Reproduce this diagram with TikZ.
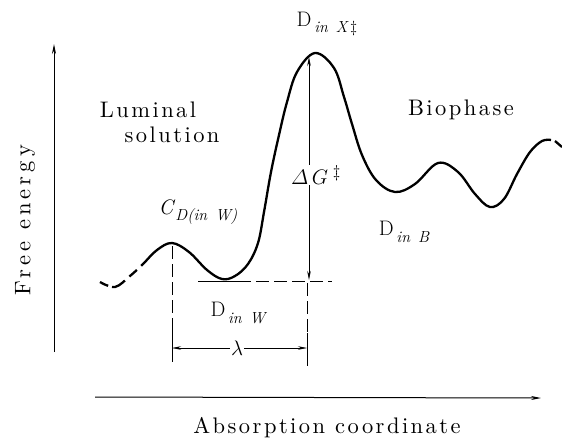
\RequirePackage{fix-cm}
\documentclass[tikz,border=0pt]{standalone}
\usepackage{fontspec}
\newfontfamily\spacedfont{lmroman10-regular.otf}[LetterSpace=11]
\newfontfamily\widefont{lmroman10-regular.otf}[LetterSpace=18]
\DeclareMathSizes{21}{21}{17}{13}
\newcommand\sublbl[2]{#1\raisebox{-0.3em}{\fontsize{16}{18}\selectfont\itshape #2}}
\usetikzlibrary{arrows.meta}
\tikzset{
  txt/.style={font=\spacedfont\fontsize{22.5}{24}\selectfont, inner sep=1pt},
  mlbl/.style={font=\fontsize{21}{23}\selectfont, inner sep=1pt},
  axis/.style={line width=1pt, -{Stealth[length=10pt,width=4pt]}},
  curve/.style={line width=2.3pt},
  thin/.style={line width=0.6pt},
  dimtip/.style={line width=0.6pt, -{Stealth[length=9pt,width=3.5pt]}},
  guide/.style={line width=0.6pt, dash pattern=on 13pt off 5pt}
}
\begin{document}
\begin{tikzpicture}[x=1pt, y=-1pt]
\useasboundingbox (0,0) rectangle (562,445);
% axes
\coordinate (y0) at (54,352);
\coordinate (y1) at (54,44);
\coordinate (x0) at (95,397);
\coordinate (x1) at (541,398);
\draw[axis] (y0) -- (y1);
\draw[axis] (x0) -- (x1);
\node[inner sep=1pt, font=\widefont\fontsize{22.5}{24}\selectfont, rotate=90] (fe) at (25,220) {Free energy};
\node[txt] (ac) at (327,428) {Absorption coordinate};
% energy curve
\draw[curve, dash pattern=on 9pt off 4pt on 15pt off 6pt on 10pt off 6pt on 4000pt]
  plot[smooth, tension=0.6] coordinates {
  (100,282) (115,287) (130,276) (143,264) (157,250) (172,243) (189,252) (207,270)
  (222,279) (235,276) (248,264) (258,243) (264,212) (271,172) (279,135) (287,102)
  (297,72) (315,53) (334,68) (344,97) (352,124) (362,155) (376,180) (395,192)
  (415,184) (438,163) (458,172) (475,194) (490,207) (504,199) (517,174) (530,152)
  (542,141) (551,140)};
\coordinate (e0) at (555,141);
\coordinate (e1) at (562,147);
\draw[curve] (e0) -- (e1);
% guide lines
\coordinate (m0) at (198,281);
\coordinate (m1) at (238,281);
\coordinate (m2) at (332,281);
\draw[thin] (m0) -- (m1);
\draw[guide] (m1) -- (m2);
\coordinate (l0) at (172,246);
\coordinate (l1) at (172,331);
\coordinate (l2) at (172,362);
\draw[guide] (l0) -- (l1);
\draw[thin] (l1) -- (l2);
\coordinate (r0) at (307,283);
\coordinate (r1) at (307,333);
\coordinate (r2) at (307,366);
\draw[guide] (r0) -- (r1);
\draw[thin] (r1) -- (r2);
% Delta G arrow
\coordinate (gt) at (309,57);
\coordinate (gb) at (309,280);
\draw[line width=0.6pt, {Stealth[length=9pt,width=3.5pt]}-{Stealth[length=9pt,width=3.5pt]}] (gb) -- (gt);
\node[mlbl, fill=white, inner sep=0pt] (dg) at (316,175) {$\mathnormal{\Delta}\,G^{\;\ddagger}$};
% lambda
\node[mlbl] (lam) at (237,348) {$\lambda$};
\coordinate (la) at (172,348);
\coordinate (lb) at (307,348);
\draw[dimtip] (lam.west) -- (la);
\draw[dimtip] (lam.east) -- (lb);
% labels
\node[txt] (lum) at (148,110) {Luminal};
\node[txt] (sol) at (172,135) {solution};
\node[txt] (bio) at (461,110) {Biophase};
\node[mlbl] (dx) at (327,24) {\sublbl{D}{\,in\enspace X\,\textup{\textdaggerdbl}}};
\node[mlbl] (cd) at (198,212) {\sublbl{\textit{C}}{D(in\enspace W)}};
\node[mlbl] (dw) at (238,313) {\sublbl{D}{\,in\enspace W}};
\node[mlbl] (db) at (404,232) {\sublbl{D}{\,in\enspace B}};
\end{tikzpicture}
\end{document}
